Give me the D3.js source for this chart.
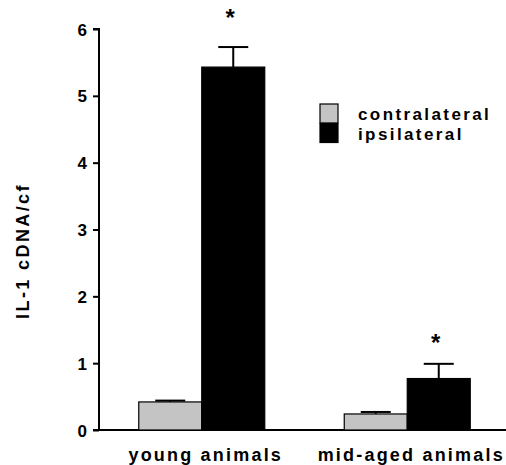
<!DOCTYPE html>
<html>
<head>
<meta charset="utf-8">
<script src="https://cdn.jsdelivr.net/npm/d3@7"></script>
<style>
  body { margin: 0; background: #fff; }
  text { font-family: "Liberation Sans", Arial, sans-serif; font-weight: bold; fill: #000; }
</style>
</head>
<body>
<div id="chart"></div>
<script>
// values
const groups = ["young animals", "mid-aged animals"];
const seriesNames = ["contralateral", "ipsilateral"];
const contralateral = [0.42, 0.24];
const contralateralErr = [0.02, 0.03];
const ipsilateral = [5.43, 0.77];
const ipsilateralErr = [0.30, 0.22];
const starAt = [6.22, 1.36];   // asterisk above ipsilateral bars
const yTicks = [0, 1, 2, 3, 4, 5, 6];
const colors = ["#c4c4c4", "#000000"];

const W = 506, H = 465;
const margin = {top: 29, right: 0, bottom: 35, left: 99};

let svg = d3.select("#chart").append("svg")
    .attr("width", W)
    .attr("height", H);

let y = d3.scaleLinear()
    .domain([0, 6])
    .range([430, 29]);

let x0 = d3.scaleBand()
    .domain(groups)
    .range([99, 510])
    .padding(0);

let x1 = d3.scaleBand()
    .domain(seriesNames)
    .range([-63, 63])
    .padding(0);

// y axis
let yAxis = svg.append("g")
    .attr("transform", "translate(99,0)")
    .call(d3.axisLeft(y).tickValues(yTicks).tickSize(6).tickFormat(d3.format("d")));
yAxis.select(".domain").attr("stroke", "#000").attr("stroke-width", 2).attr("d", "M-6," + y(6) + "H0V" + y(0));
yAxis.selectAll(".tick line").attr("stroke-width", 2);
yAxis.selectAll(".tick text")
    .attr("x", -12)
    .attr("dy", "0.36em")
    .style("font-size", "17px")
    .style("font-family", "'Liberation Sans', Arial, sans-serif")
    .style("font-weight", "bold");

// x axis line
svg.append("line")
    .attr("x1", 93).attr("x2", W)
    .attr("y1", y(0)).attr("y2", y(0))
    .attr("stroke", "#000").attr("stroke-width", 2);

// category labels
svg.selectAll(".cat")
    .data(groups)
    .enter().append("text")
    .attr("class", "cat")
    .attr("x", d => x0(d) + x0.bandwidth() / 2 + 4)
    .attr("y", 461)
    .attr("text-anchor", "middle")
    .style("font-size", "18px")
    .style("letter-spacing", "2.2px")
    .text(d => d);

// bars
const rows = [];
groups.forEach((g, i) => {
    rows.push({group: g, series: seriesNames[0], value: contralateral[i], err: contralateralErr[i], color: colors[0]});
    rows.push({group: g, series: seriesNames[1], value: ipsilateral[i], err: ipsilateralErr[i], color: colors[1]});
});

const center = d => x0(d.group) + x0.bandwidth() / 2 + x1(d.series);

// error bars (drawn first so the bar covers the lower half)
let eb = svg.selectAll(".err").data(rows).enter().append("g").attr("class", "err");
eb.append("line")
    .attr("x1", d => center(d) + x1.bandwidth() / 2)
    .attr("x2", d => center(d) + x1.bandwidth() / 2)
    .attr("y1", d => y(d.value))
    .attr("y2", d => y(d.value + d.err))
    .attr("stroke", "#000").attr("stroke-width", 2);
eb.append("line")
    .attr("x1", d => center(d) + x1.bandwidth() / 2 - 15)
    .attr("x2", d => center(d) + x1.bandwidth() / 2 + 15)
    .attr("y1", d => y(d.value + d.err))
    .attr("y2", d => y(d.value + d.err))
    .attr("stroke", "#000").attr("stroke-width", 2);

svg.selectAll(".bar").data(rows).enter().append("rect")
    .attr("class", "bar")
    .attr("x", d => center(d))
    .attr("y", d => y(d.value))
    .attr("width", x1.bandwidth())
    .attr("height", d => y(0) - y(d.value))
    .attr("fill", d => d.color)
    .attr("stroke", "#000")
    .attr("stroke-width", 1.2);

// significance stars
svg.selectAll(".star").data(groups).enter().append("text")
    .attr("x", (d, i) => x0(d) + x0.bandwidth() / 2 + x1(seriesNames[1]) + x1.bandwidth() / 2 - 3)
    .attr("y", (d, i) => y(starAt[i]) + 12)
    .attr("text-anchor", "middle")
    .style("font-size", "24px")
    .text("*");

// y label
svg.append("text")
    .attr("transform", "translate(29,251) rotate(-90)")
    .attr("text-anchor", "middle")
    .style("font-size", "18px")
    .style("letter-spacing", "2.4px")
    .text("IL-1 cDNA/cf");

// legend
let legend = svg.append("g").attr("transform", "translate(320,104)");
seriesNames.forEach((s, i) => {
    legend.append("rect")
        .attr("x", 0).attr("y", i * 19.5)
        .attr("width", 18).attr("height", 19)
        .attr("fill", colors[i])
        .attr("stroke", "#000").attr("stroke-width", 1.2);
    legend.append("text")
        .attr("x", 38).attr("y", i * 20 + 16)
        .style("font-size", "17px")
        .style("letter-spacing", "2.4px")
        .text(s);
});
</script>
</body>
</html>
